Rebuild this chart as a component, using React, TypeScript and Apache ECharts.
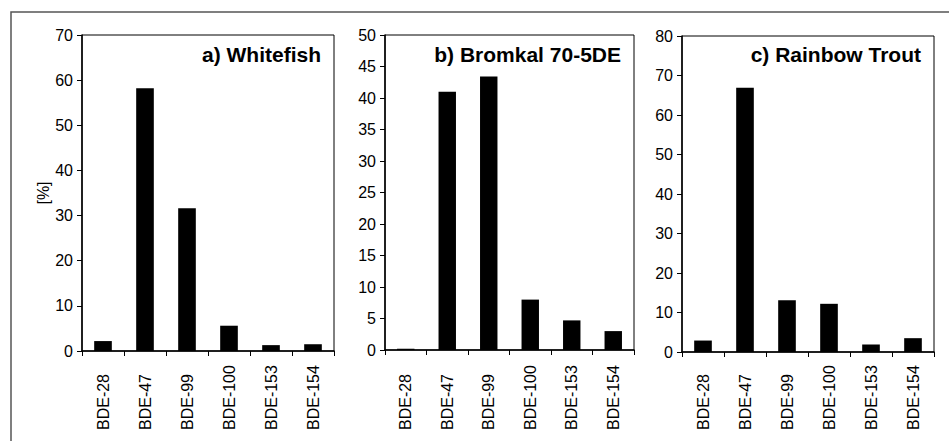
import React, { useEffect, useRef } from "react";
import * as echarts from "echarts";

const categories = ["BDE-28", "BDE-47", "BDE-99", "BDE-100", "BDE-153", "BDE-154"];
const whitefish = [2.2, 58.2, 31.6, 5.6, 1.3, 1.5];
const bromkal = [0.2, 41.0, 43.4, 8.0, 4.7, 3.0];
const rainbowTrout = [2.9, 66.9, 13.1, 12.2, 1.9, 3.5];
const panelTitles = ["a) Whitefish", "b) Bromkal 70-5DE", "c) Rainbow Trout"];
const yMax = [70, 50, 80];
const yStep = [10, 5, 10];

const FONT = "Liberation Sans";

export default function App() {
  const ref = useRef<HTMLDivElement>(null);
  useEffect(() => {
    document.body.style.margin = "0";
    const chart = echarts.init(ref.current!, null, { renderer: "svg" });
    const grids = [
      { left: 82, top: 35, width: 252, height: 316 },
      { left: 385, top: 35, width: 249, height: 315 },
      { left: 682, top: 36, width: 252, height: 316 },
    ];
    const labelBottom = 430;
    const seriesData = [whitefish, bromkal, rainbowTrout];
    const option: any = {
      animation: false,
      backgroundColor: "#fff",
      textStyle: { fontFamily: FONT, fontSize: 16 },
      grid: grids.map((g) => ({
        ...g,
        show: true,
        borderColor: "#000",
        borderWidth: 1,
        backgroundColor: "transparent",
        containLabel: false,
      })),
      xAxis: grids.map((g, i) => ({
        type: "category",
        gridIndex: i,
        data: categories,
        boundaryGap: true,
        axisLine: { show: true, lineStyle: { color: "#000", width: 1.5 } },
        axisTick: { show: true, alignWithLabel: false, length: 5, lineStyle: { color: "#000", width: 1 } },
        axisLabel: {
          rotate: 90,
          align: "left",
          margin: labelBottom - (g.top + g.height),
          color: "#000",
          fontSize: 16,
          fontFamily: FONT,
          interval: 0,
        },
        splitLine: { show: false },
      })),
      yAxis: grids.map((_, i) => ({
        type: "value",
        gridIndex: i,
        min: 0,
        max: yMax[i],
        interval: yStep[i],
        name: i === 0 ? "[%]" : "",
        nameLocation: "middle",
        nameGap: 30,
        nameRotate: 90,
        nameTextStyle: { color: "#000", fontSize: 16, fontFamily: FONT },
        axisLine: { show: true, lineStyle: { color: "#000", width: 1.5 } },
        axisTick: { show: true, length: 5, lineStyle: { color: "#000", width: 1 } },
        axisLabel: { color: "#000", fontSize: 16, margin: 9, fontFamily: FONT },
        splitLine: { show: false },
      })),
      series: seriesData.map((d, i) => ({
        type: "bar",
        xAxisIndex: i,
        yAxisIndex: i,
        data: d,
        barWidth: "42%",
        itemStyle: { color: "#000" },
        silent: true,
      })),
      graphic: [
        {
          type: "polyline",
          shape: { points: [[11, 441], [11, 12], [949, 12]] },
          style: { stroke: "#555", lineWidth: 1.5, fill: "none" },
          silent: true,
        },
        ...grids.map((g, i) => ({
          type: "text",
          x: g.left + g.width - 13,
          y: 54,
          style: {
            text: panelTitles[i],
            textAlign: "right",
            textVerticalAlign: "middle",
            fill: "#000",
            font: `bold 21px "Liberation Sans", Arial, sans-serif`,
          },
          silent: true,
        })),
      ],
    };
    chart.setOption(option);
    return () => chart.dispose();
  }, []);
  return <div ref={ref} style={{ width: 949, height: 441 }} />;
}
